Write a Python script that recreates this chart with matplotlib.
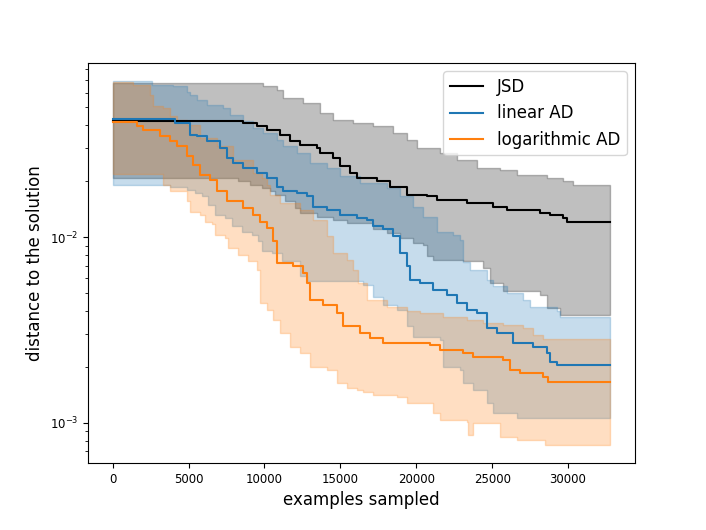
import numpy as np
import matplotlib
matplotlib.use("Agg")
import matplotlib.pyplot as plt

N_SAMPLES = 32768

# JSD: median and band
jsd_x = [0, 8580, 9490, 10150, 11020, 11680, 12340, 13440, 13660, 14530, 14980, 15630, 16080,
         17390, 18270, 19370, 20690, 21350, 23320, 25070, 25960, 28150, 28810, 29690, 29910]
jsd_y = [0.0421, 0.0412, 0.0395, 0.0379, 0.0356, 0.0328, 0.0315, 0.0302, 0.0284, 0.0267, 0.0240,
         0.0221, 0.0208, 0.0200, 0.0187, 0.0169, 0.0166, 0.0159, 0.0153, 0.0146, 0.0140, 0.0135,
         0.0132, 0.0127, 0.0121]
jsd_hi_x = [0, 9920, 10800, 11240, 12540, 13660, 14510, 15830, 17150, 18470, 19370, 20030, 21560,
            22660, 23980, 25520, 26620, 28590, 29690, 30340]
jsd_hi_y = [0.0677, 0.0649, 0.0623, 0.0562, 0.0528, 0.0467, 0.0429, 0.0412, 0.0395, 0.0364, 0.0335,
            0.0302, 0.0284, 0.0261, 0.0236, 0.0231, 0.0217, 0.0208, 0.0200, 0.0191]
jsd_lo_x = [0, 8260, 9050, 9820, 10360, 10690, 11350, 12010, 12340, 13440, 14510, 15420, 17150,
            18050, 18930, 19800, 20460, 20690, 21120, 23100, 24420, 24860, 25730, 28150, 28590, 29470]
jsd_lo_y = [0.0208, 0.0200, 0.0191, 0.0184, 0.0176, 0.0169, 0.0157, 0.0143, 0.0135, 0.0129, 0.0124,
            0.0119, 0.0110, 0.0105, 0.00988, 0.00928, 0.00909, 0.00786, 0.00754, 0.00739, 0.00681,
            0.00565, 0.00509, 0.00488, 0.00414, 0.00381]

# linear AD
lin_x = [0, 4100, 5090, 5530, 6190, 7070, 7510, 7950, 8600, 9490, 10150, 10800, 11240, 12120, 12780,
         13220, 14100, 14980, 16080, 16730, 17170, 17830, 18490, 18930, 19370, 19590, 20250, 21120,
         22000, 22660, 23320, 23980, 24640, 25300, 26390, 27710, 28590, 28810, 29250]
lin_y = [0.0433, 0.0412, 0.0356, 0.0349, 0.0328, 0.0302, 0.0267, 0.0251, 0.0236, 0.0221, 0.0208,
         0.0187, 0.0176, 0.0173, 0.0166, 0.0146, 0.0140, 0.0132, 0.0127, 0.0124, 0.0114, 0.0110,
         0.0101, 0.00820, 0.00694, 0.00588, 0.00565, 0.00520, 0.00488, 0.00441, 0.00405, 0.00389,
         0.00323, 0.00304, 0.00268, 0.00257, 0.00237, 0.00213, 0.00205]
lin_hi_x = [0, 2570, 3990, 4880, 5090, 5530, 6190, 7290, 7730, 8600, 9260, 9920, 10800, 11240, 12120,
            13000, 14100, 14980, 16290, 18050, 18930, 19800, 20440, 21350, 22420, 22880, 23100, 23540,
            24640, 25070, 25960, 27050, 27490, 29250, 29470]
lin_hi_y = [0.0691, 0.0663, 0.0649, 0.0608, 0.0585, 0.0550, 0.0517, 0.0496, 0.0457, 0.0420, 0.0387,
            0.0364, 0.0335, 0.0308, 0.0285, 0.0251, 0.0236, 0.0212, 0.0196, 0.0184, 0.0166, 0.0146,
            0.0129, 0.0107, 0.0103, 0.00967, 0.00736, 0.00666, 0.00588, 0.00542, 0.00499, 0.00459,
            0.00422, 0.00397, 0.00373]
lin_lo_x = [0, 3780, 4880, 5420, 5860, 6300, 6740, 7400, 7840, 8500, 9160, 9590, 9820, 10480, 11130,
            12340, 12780, 16490, 17150, 17810, 18710, 19370, 19800, 21560, 21780, 22880, 23100, 23760,
            24640, 25070, 26620]
lin_lo_y = [0.0191, 0.0187, 0.0180, 0.0173, 0.0166, 0.0149, 0.0132, 0.0127, 0.0114, 0.0107, 0.0103,
            0.00947, 0.00836, 0.00820, 0.00739, 0.00613, 0.00576, 0.00553, 0.00478, 0.00431, 0.00405,
            0.00330, 0.00291, 0.00279, 0.00200, 0.00192, 0.00163, 0.00150, 0.00127, 0.00112, 0.00106]

# logarithmic AD
log_x = [0, 1580, 2020, 3120, 3780, 4220, 4880, 5310, 5750, 6410, 6850, 7510, 8600, 9260, 9700, 10150,
         10580, 10800, 11900, 12560, 12780, 13000, 13870, 14760, 15190, 16290, 16950, 17830, 20900,
         21560, 23100, 23760, 25730, 26170, 26830, 28370, 28700]
log_y = [0.0415, 0.0395, 0.0379, 0.0349, 0.0328, 0.0308, 0.0272, 0.0245, 0.0217, 0.0204, 0.0176,
         0.0156, 0.0143, 0.0132, 0.0121, 0.0112, 0.00947, 0.00724, 0.00694, 0.00639, 0.00565, 0.00459,
         0.00431, 0.00389, 0.00330, 0.00304, 0.00285, 0.00268, 0.00263, 0.00247, 0.00237, 0.00227,
         0.00218, 0.00192, 0.00185, 0.00177, 0.00166]
log_hi_x = [0, 1360, 2460, 2680, 3330, 3780, 4220, 4880, 5750, 6850, 7950, 9260, 9820, 10150, 10360,
            11020, 12340, 13220, 14100, 14530, 15420, 15850, 16180, 16730, 18050, 19370, 20250, 21780,
            23320, 24420, 25730, 27050, 27710, 28370]
log_hi_y = [0.0686, 0.0663, 0.0585, 0.0506, 0.0496, 0.0447, 0.0429, 0.0403, 0.0343, 0.0308, 0.0261,
            0.0221, 0.0209, 0.0191, 0.0169, 0.0153, 0.0140, 0.0124, 0.0101, 0.00820, 0.00754, 0.00666,
            0.00565, 0.00459, 0.00422, 0.00397, 0.00389, 0.00373, 0.00358, 0.00344, 0.00337, 0.00323,
            0.00297, 0.00282]
log_lo_x = [0, 3330, 3780, 4880, 5090, 5750, 6080, 6520, 6740, 7400, 7620, 8270, 8930, 9490, 9700,
            10150, 10580, 11020, 11680, 12340, 13000, 14100, 14760, 15420, 16080, 16510, 17170, 18710,
            19370, 21120, 21560, 23320, 23430, 23760, 25520, 26620, 28480]
log_lo_y = [0.0219, 0.0191, 0.0176, 0.0156, 0.0137, 0.0132, 0.0121, 0.0117, 0.0103, 0.00988, 0.00872,
            0.00803, 0.00739, 0.00666, 0.00441, 0.00405, 0.00358, 0.00304, 0.00257, 0.00237, 0.00200,
            0.00192, 0.00163, 0.00153, 0.00150, 0.00147, 0.00141, 0.00138, 0.00127, 0.00112, 0.00103,
            0.00101, 0.000858, 0.000993, 0.000840, 0.000807, 0.000759]


def step_values(xs, ys, grid):
    # value of a post-step curve at each grid point
    idx = np.searchsorted(xs, grid, side='right') - 1
    return np.asarray(ys)[idx]


series = [
    ('JSD', 'k', (jsd_x, jsd_y), (jsd_hi_x, jsd_hi_y), (jsd_lo_x, jsd_lo_y)),
    ('linear AD', 'C0', (lin_x, lin_y), (lin_hi_x, lin_hi_y), (lin_lo_x, lin_lo_y)),
    ('logarithmic AD', 'C1', (log_x, log_y), (log_hi_x, log_hi_y), (log_lo_x, log_lo_y)),
]

fig, ax = plt.subplots(figsize=(7.06, 5.3), dpi=100)
fig.subplots_adjust(left=0.1244, right=0.8994, bottom=0.1264, top=0.881)

for name, color, (mx, my), (ux, uy), (lx, ly) in series:
    grid = np.union1d(np.union1d(ux, lx), [N_SAMPLES])
    ax.plot(np.append(mx, N_SAMPLES), np.append(my, my[-1]), drawstyle='steps-post',
            color=color, label=name)
    ax.fill_between(grid, step_values(lx, ly, grid), step_values(ux, uy, grid),
                    step='post', color=color, alpha=0.25)

ax.set_yscale('log')
ax.set_xlabel('examples sampled', fontsize=12)
ax.set_ylabel('distance to the solution', fontsize=12)
ax.tick_params(labelsize=8.5)
ax.legend(fontsize=12, loc='upper right')

fig.savefig('out.png', dpi=100)
